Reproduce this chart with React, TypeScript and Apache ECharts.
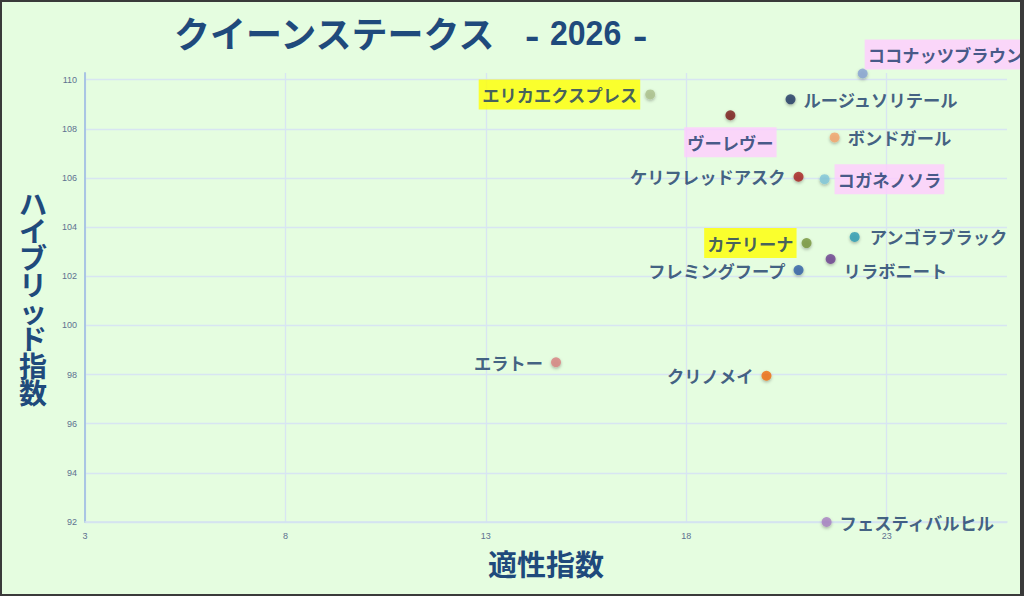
import React, { useEffect, useRef } from "react";
import * as echarts from "echarts";

// 出走馬と指数
const horseNames = [
  "ココナッツブラウン",
  "エリカエクスプレス",
  "ルージュソリテール",
  "ヴーレヴー",
  "ボンドガール",
  "ケリフレッドアスク",
  "コガネノソラ",
  "カテリーナ",
  "アンゴラブラック",
  "リラボニート",
  "フレミングフープ",
  "クリノメイ",
  "エラトー",
  "フェスティバルヒル",
];
const tekiseiIndex = [22.4, 17.1, 20.6, 19.1, 21.7, 20.8, 21.45, 21.0, 22.2, 21.6, 20.8, 20.0, 14.75, 21.5];
const hybridIndex = [110.25, 109.4, 109.2, 108.55, 107.65, 106.05, 105.95, 103.35, 103.6, 102.7, 102.25, 97.95, 98.5, 92.0];

const xTickLabels = [3, 8, 13, 18, 23];
const yTickLabels = [92, 94, 96, 98, 100, 102, 104, 106, 108, 110];

const yellowMarked = ["エリカエクスプレス", "カテリーナ"];
const pinkMarked = ["ココナッツブラウン", "ヴーレヴー", "コガネノソラ"];

const raceTitle = "クイーンステークス";
const raceYear = "2026";

// 見た目
const dotColors = [
  "#87a3d3",
  "#abc08c",
  "#1f3864",
  "#7a1c1c",
  "#f4a46c",
  "#a82222",
  "#80c6da",
  "#77933c",
  "#2b9ab3",
  "#6b3f8e",
  "#2e5fa6",
  "#f06a0c",
  "#d88080",
  "#a880c2",
];
const labelPlace: Record<string, { position: string; offset?: number[] }> = {
  ココナッツブラウン: { position: "right", offset: [-8, -19] },
  エリカエクスプレス: { position: "left" },
  ルージュソリテール: { position: "right" },
  ヴーレヴー: { position: "bottom", offset: [0, 2] },
  ボンドガール: { position: "right" },
  ケリフレッドアスク: { position: "left" },
  コガネノソラ: { position: "right" },
  カテリーナ: { position: "left" },
  アンゴラブラック: { position: "right", offset: [2, 0] },
  リラボニート: { position: "right", offset: [0, 11] },
  フレミングフープ: { position: "left" },
  クリノメイ: { position: "left" },
  エラトー: { position: "left" },
  フェスティバルヒル: { position: "right" },
};

const NAVY = "#1f4a7c";
const LABEL_NAVY = "#17386a";
const JP = "'Noto Sans CJK JP', sans-serif";
const NUM = "'Liberation Sans', Arial, sans-serif";

export default function App() {
  const chartRef = useRef<HTMLDivElement>(null);

  useEffect(() => {
    document.body.style.margin = "0";
    if (!chartRef.current) return;
    const chart = echarts.init(chartRef.current, null, { renderer: "svg" });

    const points = horseNames.map((name, i) => {
      const place = labelPlace[name];
      const bg = yellowMarked.includes(name)
        ? "#ffff00"
        : pinkMarked.includes(name)
          ? "#ffccff"
          : "transparent";
      return {
        name,
        value: [tekiseiIndex[i], hybridIndex[i]],
        itemStyle: { color: dotColors[i] },
        label: {
          position: place.position,
          offset: place.offset || [0, 0],
          backgroundColor: bg,
        },
      };
    });

    const numStyle = {
      fontFamily: NUM,
      fontSize: 36,
      fontWeight: "bold",
      fill: NAVY,
      textVerticalAlign: "middle",
    };

    chart.setOption({
      animation: false,
      backgroundColor: "transparent",
      graphic: [
        {
          type: "text",
          x: 174,
          y: 32,
          style: {
            text: raceTitle,
            fontFamily: JP,
            fontSize: 36,
            fontWeight: "bold",
            fill: NAVY,
            textVerticalAlign: "middle",
          },
        },
        {
          type: "text",
          x: 525,
          y: 35,
          scaleX: 1.2,
          style: { ...numStyle, text: "-" },
        },
        {
          type: "text",
          x: 550,
          y: 32,
          scaleX: 0.89,
          style: { ...numStyle, text: raceYear },
        },
        {
          type: "text",
          x: 633,
          y: 35,
          scaleX: 1.2,
          style: { ...numStyle, text: "-" },
        },
      ],
      grid: { left: 85, right: 17, top: 73, bottom: 74 },
      xAxis: {
        type: "value",
        min: 3,
        max: 26,
        interval: 5,
        name: "適性指数",
        nameLocation: "middle",
        nameGap: 41,
        nameTextStyle: {
          fontFamily: JP,
          fontSize: 29,
          fontWeight: "bold",
          color: NAVY,
          verticalAlign: "middle",
        },
        axisLine: { lineStyle: { color: "#d3e2f0", width: 1.5 } },
        axisTick: { show: false },
        axisLabel: {
          showMaxLabel: false,
          margin: 9,
          fontSize: 9,
          color: "#5e7190",
          fontFamily: NUM,
          formatter: (v: number) => (xTickLabels.includes(v) ? String(v) : ""),
        },
        splitLine: {
          showMaxLine: false,
          lineStyle: { color: "#d8e5f2", width: 1.3 },
        },
      },
      yAxis: {
        type: "value",
        min: 92,
        max: 110.27,
        interval: 2,
        name: "ハイブリッド指数".split("").join("\n"),
        nameLocation: "middle",
        nameRotate: 0,
        nameGap: 52,
        nameTextStyle: {
          fontFamily: JP,
          fontSize: 28,
          lineHeight: 27,
          fontWeight: "bold",
          color: NAVY,
          align: "center",
          verticalAlign: "middle",
        },
        axisLine: { show: true, lineStyle: { color: "#a9c5e3", width: 2 } },
        axisTick: { show: false },
        axisLabel: {
          showMaxLabel: false,
          margin: 8,
          fontSize: 9,
          color: "#5e7190",
          fontFamily: NUM,
          formatter: (v: number) => (yTickLabels.includes(v) ? String(v) : ""),
        },
        splitLine: {
          showMaxLine: false,
          lineStyle: { color: "#d8e5f2", width: 1.3 },
        },
      },
      series: [
        {
          type: "scatter",
          symbolSize: 10,
          itemStyle: {
            shadowBlur: 3,
            shadowColor: "rgba(0,0,0,0.35)",
            shadowOffsetY: 1.5,
          },
          label: {
            show: true,
            formatter: "{b}",
            distance: 5,
            fontFamily: JP,
            fontSize: 17.3,
            lineHeight: 20,
            fontWeight: "bold",
            color: LABEL_NAVY,
            padding: [5, 3],
          },
          data: points,
        },
      ],
    });

    return () => {
      chart.dispose();
    };
  }, []);

  return (
    <div
      style={{
        position: "relative",
        width: 1024,
        height: 596,
        background: "#e5fde0",
        overflow: "hidden",
      }}
    >
      <div ref={chartRef} style={{ position: "absolute", left: 0, top: 0, width: 1024, height: 596 }} />
      <div
        style={{
          position: "absolute",
          inset: 0,
          borderStyle: "solid",
          borderColor: "#3a3a3a",
          borderWidth: "2px 4px 2px 2px",
          pointerEvents: "none",
        }}
      />
    </div>
  );
}
